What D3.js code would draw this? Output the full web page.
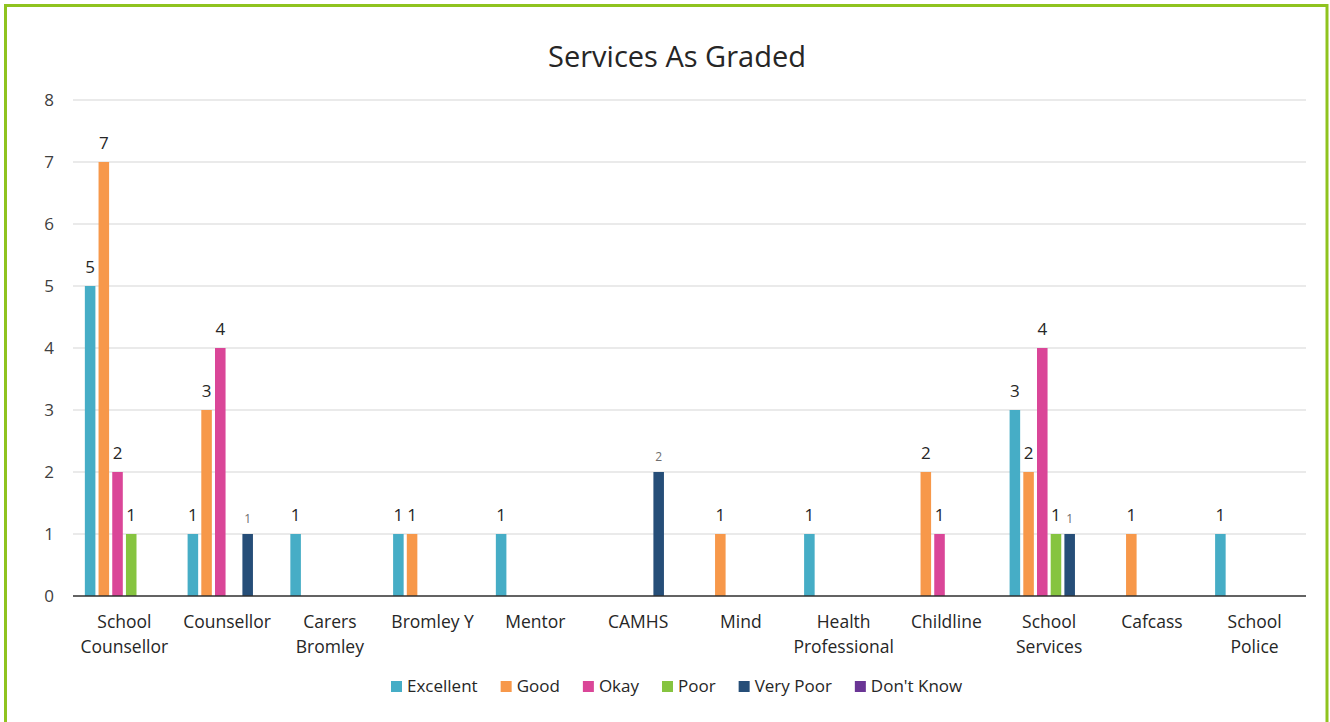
<!DOCTYPE html>
<html>
<head>
<meta charset="utf-8">
<script src="https://cdn.jsdelivr.net/npm/d3@7"></script>
<style>
  html, body { margin: 0; padding: 0; background: #ffffff; }
  svg { display: block; font-family: "Open Sans", "Noto Sans", sans-serif; }
</style>
</head>
<body>
<svg id="chart" width="1330" height="722"></svg>
<script>
// Services and the grades they received
const categories = [
  ["School", "Counsellor"], ["Counsellor"], ["Carers", "Bromley"], ["Bromley Y"],
  ["Mentor"], ["CAMHS"], ["Mind"], ["Health", "Professional"], ["Childline"],
  ["School", "Services"], ["Cafcass"], ["School", "Police"]
];
const seriesNames = ["Excellent", "Good", "Okay", "Poor", "Very Poor", "Don't Know"];
const seriesColors = ["#46adc6", "#f7984a", "#da4698", "#86c440", "#264e78", "#6a3595"];

// one array per grade, one value per service (null = no responses)
const excellent = [5, 1, 1, 1, 1, null, null, 1, null, 3, null, 1];
const good      = [7, 3, null, 1, null, null, 1, null, 2, 2, 1, null];
const okay      = [2, 4, null, null, null, null, null, null, 1, 4, null, null];
const poor      = [1, null, null, null, null, null, null, null, null, 1, null, null];
const veryPoor  = [null, 1, null, null, null, 2, null, null, null, 1, null, null];
const dontKnow  = [null, null, null, null, null, null, null, null, null, null, null, null];
const seriesValues = [excellent, good, okay, poor, veryPoor, dontKnow];

const yTicks = [0, 1, 2, 3, 4, 5, 6, 7, 8];
const title = "Services As Graded";

const svg = d3.select("#chart");
const W = 1330, H = 722;
const plot = { left: 73, right: 1306, top: 100, bottom: 596 };

// green frame around the chart
svg.append("rect")
  .attr("x", 5.5).attr("y", 5.5)
  .attr("width", 1321.5).attr("height", H + 20)
  .attr("fill", "none")
  .attr("stroke", "#8fc31f")
  .attr("stroke-width", 3);

svg.append("text")
  .attr("x", 677).attr("y", 67)
  .attr("text-anchor", "middle")
  .attr("font-size", 29)
  .attr("fill", "#262626")
  .text(title);

const keys = categories.map((c, i) => i);
const x = d3.scaleBand().domain(keys).range([plot.left, plot.right]);
const x1 = d3.scaleBand().domain(seriesNames)
  .range([0, x.bandwidth()])
  .paddingInner(0.23).paddingOuter(0.865);
const y = d3.scaleLinear().domain([0, 8]).range([plot.bottom, plot.top]);

// gridlines
svg.append("g")
  .selectAll("line")
  .data(yTicks.filter(t => t > 0))
  .join("line")
  .attr("x1", plot.left).attr("x2", plot.right)
  .attr("y1", d => y(d)).attr("y2", d => y(d))
  .attr("stroke", "#e3e3e3").attr("stroke-width", 1.3);

// y axis labels
const yAxis = d3.axisLeft(y).tickValues(yTicks).tickSize(0).tickPadding(0).tickFormat(d3.format("d"));
const yg = svg.append("g").attr("transform", `translate(${plot.left - 19},0)`).call(yAxis);
yg.select(".domain").remove();
yg.selectAll("text")
  .attr("font-size", 17)
  .attr("font-family", "'Open Sans', sans-serif")
  .attr("fill", "#404040")
  .attr("dy", "0.35em");

// bars
const bars = [];
seriesValues.forEach((vals, s) => {
  vals.forEach((v, i) => {
    if (v !== null && v > 0) bars.push({ s, i, v });
  });
});

svg.append("g")
  .selectAll("rect")
  .data(bars)
  .join("rect")
  .attr("x", d => x(d.i) + x1(seriesNames[d.s]))
  .attr("width", x1.bandwidth())
  .attr("y", d => y(d.v))
  .attr("height", d => y(0) - y(d.v))
  .attr("fill", d => seriesColors[d.s]);

// value labels (the Very Poor series uses a smaller grey style)
svg.append("g")
  .selectAll("text")
  .data(bars)
  .join("text")
  .attr("x", d => x(d.i) + x1(seriesNames[d.s]) + x1.bandwidth() / 2)
  .attr("y", d => y(d.v) - (d.s === 4 ? 11 : 13))
  .attr("text-anchor", "middle")
  .attr("font-size", d => d.s === 4 ? 12 : 17)
  .attr("fill", d => d.s === 4 ? "#6e6e6e" : "#262626")
  .text(d => d.v);

// baseline
svg.append("line")
  .attr("x1", plot.left).attr("x2", plot.right)
  .attr("y1", y(0)).attr("y2", y(0))
  .attr("stroke", "#2f2f2f").attr("stroke-width", 1.5);

// category labels
const xg = svg.append("g");
categories.forEach((lines, i) => {
  const t = xg.append("text")
    .attr("x", x(i) + x.bandwidth() / 2)
    .attr("y", 628)
    .attr("text-anchor", "middle")
    .attr("font-size", 17.5)
    .attr("fill", "#262626");
  lines.forEach((ln, k) => {
    t.append("tspan")
      .attr("x", x(i) + x.bandwidth() / 2)
      .attr("dy", k === 0 ? 0 : 25)
      .text(ln);
  });
});

// legend
const lg = svg.append("g");
let lx = 391;
seriesNames.forEach((name, s) => {
  lg.append("rect")
    .attr("x", lx).attr("y", 681)
    .attr("width", 11).attr("height", 11)
    .attr("fill", seriesColors[s]);
  const t = lg.append("text")
    .attr("x", lx + 16).attr("y", 692)
    .attr("font-size", 17)
    .attr("fill", "#262626")
    .text(name);
  lx += 16 + t.node().getComputedTextLength() + 23;
});
</script>
</body>
</html>
